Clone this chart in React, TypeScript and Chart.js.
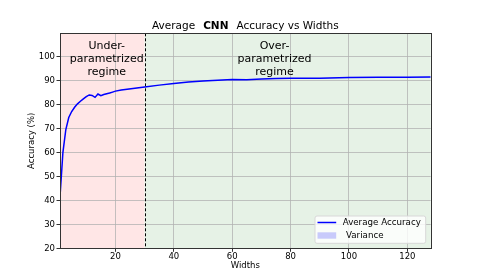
import React, { useEffect, useRef } from "react";
import { Chart, registerables } from "chart.js";

Chart.register(...registerables);

// ---- data ----
const widths = [1, 2, 3, 4, 5, 6, 7, 8, 9, 10, 11, 12, 13, 14, 15, 16, 17, 18, 19, 20, 22, 24, 26, 28, 30, 35, 40, 45, 50, 55, 60, 65, 70, 75, 80, 90, 100, 110, 120, 128];
const avgAccuracy = [41.5, 60, 69.5, 74.5, 77, 78.8, 80.2, 81.3, 82.3, 83.2, 83.9, 83.7, 82.9, 84.3, 83.6, 84.1, 84.4, 84.7, 85.1, 85.5, 86.0, 86.3, 86.6, 86.9, 87.2, 88.0, 88.7, 89.3, 89.7, 90.0, 90.3, 90.2, 90.6, 90.8, 90.9, 90.9, 91.2, 91.3, 91.3, 91.4];
const variance = [0.6, 0.5, 0.4, 0.3, 0.3, 0.25, 0.25, 0.2, 0.2, 0.2, 0.2, 0.2, 0.2, 0.2, 0.2, 0.15, 0.15, 0.15, 0.15, 0.15, 0.1, 0.1, 0.1, 0.1, 0.1, 0.1, 0.1, 0.1, 0.1, 0.1, 0.1, 0.1, 0.1, 0.1, 0.1, 0.1, 0.1, 0.1, 0.1, 0.1];
const xTicks = [20, 40, 60, 80, 100, 120];
const yTicks = [20, 30, 40, 50, 60, 70, 80, 90, 100];
const boundaryWidth = 30;
const underLabel = ["Under-", "parametrized", "regime"];
const overLabel = ["Over-", "parametrized", "regime"];
const legendLabels = ["Average Accuracy", "Variance"];

const FONT = "'DejaVu Sans', 'Liberation Sans', sans-serif";

const decor = {
  id: "decor",
  beforeDraw(chart: any) {
    const { ctx, chartArea: a, scales } = chart;
    const xb = scales.x.getPixelForValue(boundaryWidth);
    ctx.save();
    ctx.fillStyle = "#ffe6e6";
    ctx.fillRect(a.left, a.top, xb - a.left, a.bottom - a.top);
    ctx.fillStyle = "#e6f2e6";
    ctx.fillRect(xb, a.top, a.right - xb, a.bottom - a.top);
    ctx.restore();
  },
  beforeDatasetsDraw(chart: any) {
    const { ctx, chartArea: a, scales } = chart;
    const xb = Math.round(scales.x.getPixelForValue(boundaryWidth)) + 0.5;
    ctx.save();
    ctx.strokeStyle = "#000";
    ctx.lineWidth = 1;
    ctx.setLineDash([3, 2]);
    ctx.beginPath();
    ctx.moveTo(xb, a.top);
    ctx.lineTo(xb, a.bottom);
    ctx.stroke();
    ctx.restore();
  },
  afterDraw(chart: any) {
    const { ctx, chartArea: a, scales } = chart;
    const x = scales.x, y = scales.y;
    ctx.save();
    // frame
    ctx.strokeStyle = "#333";
    ctx.lineWidth = 1;
    ctx.strokeRect(Math.round(a.left) + 0.5, Math.round(a.top) + 0.5, Math.round(a.right - a.left), Math.round(a.bottom - a.top));

    // region labels
    ctx.fillStyle = "#000";
    ctx.font = `11px ${FONT}`;
    ctx.textAlign = "center";
    ctx.textBaseline = "middle";
    const lh = 12.7;
    const midY = y.getPixelForValue(98.8);
    const ux = x.getPixelForValue(17);
    const ox = x.getPixelForValue(74.5);
    underLabel.forEach((t, i) => ctx.fillText(t, ux, midY + (i - 1) * lh));
    overLabel.forEach((t, i) => ctx.fillText(t, ox, midY + (i - 1) * lh));

    // title
    const parts = [
      { t: "Average", b: false },
      { t: "CNN", b: true },
      { t: "Accuracy vs Widths", b: false },
    ];
    const gap = 8;
    const fs = 10.5;
    let total = 0;
    const ws = parts.map((p) => {
      ctx.font = `${p.b ? "bold " : ""}${fs}px ${FONT}`;
      const w = ctx.measureText(p.t).width;
      total += w;
      return w;
    });
    total += gap * (parts.length - 1);
    let tx = (a.left + a.right) / 2 - total / 2;
    ctx.textAlign = "left";
    parts.forEach((p, i) => {
      ctx.font = `${p.b ? "bold " : ""}${fs}px ${FONT}`;
      ctx.fillText(p.t, tx, 26);
      tx += ws[i] + gap;
    });

    // axis labels
    ctx.font = `8.5px ${FONT}`;
    ctx.textAlign = "center";
    ctx.fillText("Widths", (a.left + a.right) / 2, 266);
    ctx.save();
    ctx.translate(32, (a.top + a.bottom) / 2);
    ctx.rotate(-Math.PI / 2);
    ctx.fillText("Accuracy (%)", 0, 0);
    ctx.restore();

    // legend
    const bw = 110.7, bh = 27.3;
    const bx = a.right - 5 - bw, by = a.bottom - 5 - bh;
    ctx.beginPath();
    const r = 2;
    ctx.moveTo(bx + r, by);
    ctx.arcTo(bx + bw, by, bx + bw, by + bh, r);
    ctx.arcTo(bx + bw, by + bh, bx, by + bh, r);
    ctx.arcTo(bx, by + bh, bx, by, r);
    ctx.arcTo(bx, by, bx + bw, by, r);
    ctx.closePath();
    ctx.fillStyle = "rgba(255,255,255,0.8)";
    ctx.fill();
    ctx.strokeStyle = "#d8d8d8";
    ctx.stroke();
    const sx = bx + 2.5;
    const l1 = by + 6.5, l2 = by + 19.5;
    ctx.strokeStyle = "#0000ff";
    ctx.lineWidth = 1.5;
    ctx.beginPath();
    ctx.moveTo(sx, l1);
    ctx.lineTo(sx + 18.7, l1);
    ctx.stroke();
    ctx.fillStyle = "rgba(0,0,255,0.2)";
    ctx.fillRect(sx, l2 - 3.2, 18.7, 6.4);
    ctx.fillStyle = "#000";
    ctx.font = `8.7px ${FONT}`;
    ctx.textAlign = "left";
    ctx.fillText(legendLabels[0], bx + 27.7, l1);
    ctx.fillText(legendLabels[1], bx + 31, l2);
    ctx.restore();
  },
};

export default function App() {
  const ref = useRef<HTMLCanvasElement>(null);
  useEffect(() => {
    document.body.style.margin = "0";
    const canvas = ref.current!;
    const pts = (arr: number[]) => widths.map((w, i) => ({ x: w, y: arr[i] }));
    const lower = avgAccuracy.map((v, i) => v - variance[i]);
    const upper = avgAccuracy.map((v, i) => v + variance[i]);
    const chart = new Chart(canvas, {
      type: "line",
      data: {
        datasets: [
          {
            label: "lower",
            data: pts(lower),
            borderWidth: 0,
            pointRadius: 0,
            fill: false,
            borderColor: "rgba(0,0,0,0)",
          },
          {
            label: "Variance",
            data: pts(upper),
            borderWidth: 0,
            pointRadius: 0,
            fill: "-1",
            backgroundColor: "rgba(0,0,255,0.2)",
            borderColor: "rgba(0,0,0,0)",
          },
          {
            label: "Average Accuracy",
            data: pts(avgAccuracy),
            borderColor: "#0000ff",
            borderWidth: 1.5,
            pointRadius: 0,
            fill: false,
            tension: 0,
          },
        ],
      },
      options: {
        animation: false,
        responsive: true,
        maintainAspectRatio: false,
        layout: { padding: { left: 0, top: 33.3, right: 47.3, bottom: 0 } },
        plugins: { legend: { display: false }, title: { display: false }, tooltip: { enabled: false } },
        scales: {
          x: {
            type: "linear",
            min: 1,
            max: 128,
            afterBuildTicks: (s: any) => { s.ticks = xTicks.map((v) => ({ value: v })); },
            afterFit: (s: any) => { s.height = 30.7; },
            grid: { color: "rgba(176,176,176,0.75)", lineWidth: 1, drawTicks: true, tickLength: 3.5, tickColor: "#333" },
            border: { display: false },
            ticks: { color: "#000", font: { family: FONT, size: 8.5 }, padding: 0, maxRotation: 0 },
          },
          y: {
            type: "linear",
            min: 20,
            max: 109.6,
            afterBuildTicks: (s: any) => { s.ticks = yTicks.map((v) => ({ value: v })); },
            afterFit: (s: any) => { s.width = 60; },
            grid: { color: "rgba(176,176,176,0.75)", lineWidth: 1, drawTicks: true, tickLength: 3.5, tickColor: "#333" },
            border: { display: false },
            ticks: { color: "#000", font: { family: FONT, size: 8.5 }, padding: 1.5 },
          },
        },
      },
      plugins: [decor],
    });
    return () => chart.destroy();
  }, []);
  return (
    <div style={{ position: "fixed", left: 0, top: 0, width: 478, height: 279, background: "#fff" }}>
      <canvas ref={ref} />
    </div>
  );
}
